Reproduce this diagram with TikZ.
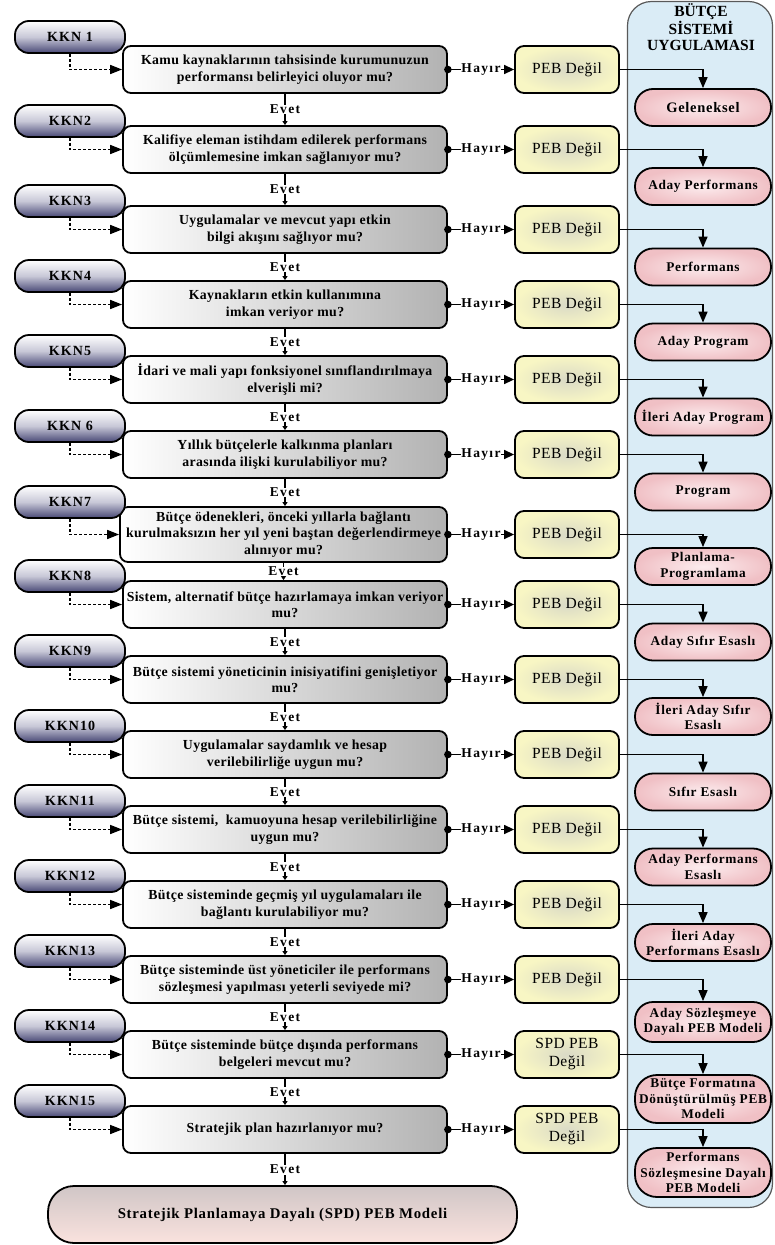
\documentclass[tikz,border=0pt]{standalone}
\usepackage{fontspec}
\setmainfont{Liberation Serif}
\newfontfamily\qf{Liberation Serif}[LetterSpace=2.5,Ligatures=CommonOff]
\newfontfamily\lf{Liberation Serif}[LetterSpace=10,Ligatures=CommonOff]
\newfontfamily\kf{Liberation Serif}[LetterSpace=8]
\newfontfamily\pf{Liberation Serif}[LetterSpace=5,Ligatures=CommonOff]
\newfontfamily\ff{Liberation Serif}[LetterSpace=5,Ligatures=CommonOff]
\newfontfamily\ef{Liberation Serif}[LetterSpace=3]
\usetikzlibrary{arrows.meta}
\definecolor{kdark}{RGB}{72,72,118}
\definecolor{kmid}{RGB}{200,200,215}
\definecolor{qgray}{RGB}{178,178,178}
\definecolor{yelo}{RGB}{248,246,196}
\definecolor{yeli}{RGB}{218,218,198}
\definecolor{pinko}{RGB}{240,192,197}
\definecolor{pinki}{RGB}{252,236,238}
\definecolor{pblue}{RGB}{218,236,246}
\definecolor{pgray}{RGB}{192,198,204}
\definecolor{fintop}{RGB}{208,198,198}
\definecolor{finbot}{RGB}{250,226,222}
\tikzset{
  kkn/.style={draw, line width=1.8pt, rounded corners=14pt, minimum width=110pt, minimum height=32pt,
    top color=white, bottom color=kdark, middle color=kmid, inner sep=0pt,
    font=\kf\bfseries\fontsize{14}{16}\selectfont},
  qbox/.style={draw, line width=1.8pt, rounded corners=8pt, minimum width=324pt, minimum height=47pt,
    left color=white, right color=qgray, align=center, inner xsep=1pt, inner ysep=2pt,
    font=\qf\bfseries\fontsize{13.8}{16.5}\selectfont},
  peb/.style={draw, line width=1.8pt, rounded corners=9pt, minimum width=104pt, minimum height=47pt,
    inner color=yeli, outer color=yelo, align=center, inner sep=1pt,
    font=\ef\fontsize{15.5}{18}\selectfont},
  pinkbox/.style={draw, line width=1.8pt, rounded corners=18pt, minimum width=136pt, minimum height=37pt,
    inner color=pinki, outer color=pinko, align=center, inner sep=1pt,
    font=\pf\bfseries\fontsize{13.3}{15.5}\selectfont},
  finbox/.style={draw, line width=1.8pt, rounded corners=26pt, minimum width=469pt, minimum height=57pt,
    top color=fintop, bottom color=finbot,
    font=\ff\bfseries\fontsize{14.8}{16}\selectfont},
  panelbox/.style={draw=gray!70!black, line width=1.2pt, rounded corners=24pt, minimum width=145pt,
    minimum height=1206pt, inner sep=0pt, left color=pblue, middle color=pgray, right color=pblue},
  dashk/.style={line width=1.5pt, dash pattern=on 3pt off 2pt, -{Triangle[length=12pt,width=9pt]}},
  hay/.style={line width=1.4pt, -{Triangle[length=10pt,width=9pt]}},
  hayl/.style={fill=white, inner sep=0.5pt, font=\lf\bfseries\fontsize{13.5}{15}\selectfont},
  ev/.style={line width=1.6pt, -{Triangle[length=4pt,width=5pt]}},
  evl/.style={fill=white, inner sep=0.5pt, font=\lf\bfseries\fontsize{13.5}{15}\selectfont},
  tor/.style={line width=1.5pt, -{Triangle[length=11pt,width=9pt]}}
}
\begin{document}
\begin{tikzpicture}[x=1pt,y=-1pt]
\useasboundingbox (0,0) rectangle (774,1245);
% right panel
\node[panelbox] (panel) at (700,604.5) {};
\node[font=\bfseries\fontsize{15.5}{16}\selectfont, align=center, inner sep=0pt] (title) at (701,27) {BÜTÇE\\SİSTEMİ\\UYGULAMASI};
% question boxes
\node[qbox] (q1) at (285,69.5) {Kamu kaynaklarının tahsisinde kurumunuzun\\performansı belirleyici oluyor mu?};
\node[qbox] (q2) at (285,149.5) {Kalifiye eleman istihdam edilerek performans\\ölçümlemesine imkan sağlanıyor mu?};
\node[qbox] (q3) at (285,229.5) {Uygulamalar ve mevcut yapı etkin\\bilgi akışını sağlıyor mu?};
\node[qbox] (q4) at (285,304.5) {Kaynakların etkin kullanımına\\imkan veriyor mu?};
\node[qbox] (q5) at (285,379.5) {İdari ve mali yapı fonksiyonel sınıflandırılmaya\\elverişli mi?};
\node[qbox] (q6) at (285,454.5) {Yıllık bütçelerle kalkınma planları\\arasında ilişki kurulabiliyor mu?};
\node[qbox, minimum height=55pt, minimum width=327pt, inner xsep=0pt] (q7) at (283.5,534.5) {Bütçe ödenekleri, önceki yıllarla bağlantı\\kurulmaksızın her yıl yeni baştan değerlendirmeye\\alınıyor mu?};
\node[qbox] (q8) at (285,604.5) {Sistem, alternatif bütçe hazırlamaya imkan veriyor\\mu?};
\node[qbox] (q9) at (285,679.5) {Bütçe sistemi yöneticinin inisiyatifini genişletiyor\\mu?};
\node[qbox] (q10) at (285,754.5) {Uygulamalar saydamlık ve hesap\\verilebilirliğe uygun mu?};
\node[qbox] (q11) at (285,829.5) {Bütçe sistemi,\ \ kamuoyuna hesap verilebilirliğine\\uygun mu?};
\node[qbox] (q12) at (285,904.5) {Bütçe sisteminde geçmiş yıl uygulamaları ile\\bağlantı kurulabiliyor mu?};
\node[qbox] (q13) at (285,979.5) {Bütçe sisteminde üst yöneticiler ile performans\\sözleşmesi yapılması yeterli seviyede mi?};
\node[qbox] (q14) at (285,1054.5) {Bütçe sisteminde bütçe dışında performans\\belgeleri mevcut mu?};
\node[qbox] (q15) at (285,1129.5) {Stratejik plan hazırlanıyor mu?};
% KKN boxes
\node[kkn] (k1) at (70,37) {KKN 1};
\node[kkn] (k2) at (70,121) {KKN2};
\node[kkn] (k3) at (70,201) {KKN3};
\node[kkn] (k4) at (70,276) {KKN4};
\node[kkn] (k5) at (70,351) {KKN5};
\node[kkn] (k6) at (70,426) {KKN 6};
\node[kkn] (k7) at (70,502) {KKN7};
\node[kkn] (k8) at (70,576) {KKN8};
\node[kkn] (k9) at (70,651) {KKN9};
\node[kkn] (k10) at (70,726) {KKN10};
\node[kkn] (k11) at (70,801) {KKN11};
\node[kkn] (k12) at (70,876) {KKN12};
\node[kkn] (k13) at (70,951) {KKN13};
\node[kkn] (k14) at (70,1026) {KKN14};
\node[kkn] (k15) at (70,1101) {KKN15};
% PEB boxes
\foreach \i/\y in {1/69.5,2/149.5,3/229.5,4/304.5,5/379.5,6/454.5,7/534.5,8/604.5,9/679.5,10/754.5,11/829.5,12/904.5,13/979.5}
  \node[peb] (p\i) at (567,\y) {PEB Değil};
\node[peb] (p14) at (567,1054.5) {SPD PEB\\Değil};
\node[peb] (p15) at (567,1129.5) {SPD PEB\\Değil};
% pink nodes
\node[pinkbox, font=\pf\bfseries\fontsize{14.5}{16}\selectfont] (r1) at (703,107.5) {Geleneksel};
\node[pinkbox] (r2) at (703,186.5) {Aday Performans};
\node[pinkbox] (r3) at (703,267) {Performans};
\node[pinkbox] (r4) at (703,342) {Aday Program};
\node[pinkbox] (r5) at (703,417) {İleri Aday Program};
\node[pinkbox] (r6) at (703,492) {Program};
\node[pinkbox] (r7) at (703,566.5) {Planlama-\\Programlama};
\node[pinkbox] (r8) at (703,642) {Aday Sıfır Esaslı};
\node[pinkbox] (r9) at (703,716.5) {İleri Aday Sıfır\\Esaslı};
\node[pinkbox] (r10) at (703,792) {Sıfır Esaslı};
\node[pinkbox] (r11) at (703,867) {Aday Performans\\Esaslı};
\node[pinkbox] (r12) at (703,942.5) {İleri Aday\\Performans Esaslı};
\node[pinkbox, minimum height=40pt] (r13) at (703,1022) {Aday Sözleşmeye\\Dayalı PEB Modeli};
\node[pinkbox, minimum height=48pt, rounded corners=22pt] (r14) at (703,1099) {Bütçe Formatına\\Dönüştürülmüş PEB\\Modeli};
\node[pinkbox, minimum height=49pt, rounded corners=22pt] (r15) at (703,1172.5) {Performans\\Sözleşmesine Dayalı\\PEB Modeli};
% final
\node[finbox] (fin) at (282.5,1214.5) {Stratejik Planlamaya Dayalı (SPD) PEB Modeli};
% connectors
\foreach \i in {1,...,15}{
  \draw[dashk] (k\i.south) |- (q\i.west);
  \draw[hay] (q\i.east) -- node[hayl]{Hayır} (p\i.west);
  \fill (q\i.east) circle (3.8pt);
  \draw[tor] (p\i.east) -| (r\i.north);
}
\foreach \i in {1,...,14}{
  \pgfmathtruncatemacro\j{\i+1}
  \draw[ev] (q\i.south) -- node[evl]{Evet} (q\i.south |- q\j.north);
}
\draw[ev] (q15.south) -- node[evl]{Evet} (q15.south |- fin.north);
\end{tikzpicture}
\end{document}
